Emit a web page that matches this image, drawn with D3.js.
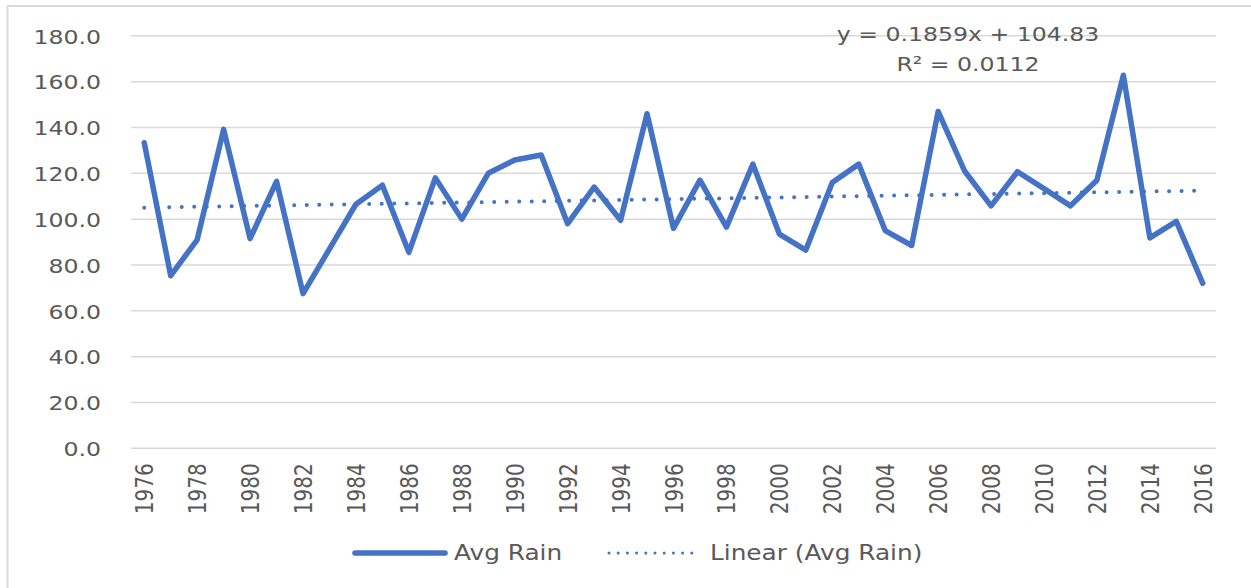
<!DOCTYPE html>
<html>
<head>
<meta charset="utf-8">
<script src="https://cdn.jsdelivr.net/npm/d3@7"></script>
<style>
  html, body { margin: 0; padding: 0; background: #ffffff; }
  svg { display: block; }
  text { font-family: "DejaVu Sans", sans-serif; fill: #595959; }
</style>
</head>
<body>
<svg id="chart" width="1251" height="588"></svg>
<script>
// ---- data ----
const years = [1976,1977,1978,1979,1980,1981,1982,1983,1984,1985,1986,1987,1988,1989,1990,1991,1992,1993,1994,1995,1996,1997,1998,1999,2000,2001,2002,2003,2004,2005,2006,2007,2008,2009,2010,2011,2012,2013,2014,2015,2016];
const avgRain = [133.3,75.3,91.0,139.2,91.5,116.5,67.5,87.0,106.5,114.8,85.5,118.0,100.0,120.0,125.8,128.0,98.0,114.0,99.5,146.0,96.0,117.0,96.5,124.0,93.5,86.5,116.0,124.0,95.0,88.5,147.0,121.0,105.8,120.7,113.3,105.8,117.0,162.8,91.8,99.0,72.0];
const yTicks = [0,20,40,60,80,100,120,140,160,180];
const trendSlope = 0.1859;
const trendIntercept = 104.83;
const r2Text = "0.0112";
const seriesName = "Avg Rain";
const trendName = "Linear (Avg Rain)";

// ---- layout ----
const W = 1251, H = 588;
const plot = { left: 131, right: 1216, top: 35.8, bottom: 448.3 };
const stretch = 1.18;
const blue = "#4472C4";
const grid = "#d9d9d9";

const svg = d3.select("#chart");

// chart border
svg.append("rect")
  .attr("x", 7.5).attr("y", 6)
  .attr("width", W + 10).attr("height", H + 10)
  .attr("fill", "none").attr("stroke", grid).attr("stroke-width", 2);

const x = d3.scaleBand().domain(years).range([plot.left, plot.right]).padding(0);
const cx = d => x(d) + x.bandwidth() / 2;
const y = d3.scaleLinear().domain([0, 180]).range([plot.bottom, plot.top]);

// gridlines
svg.append("g").selectAll("line").data(yTicks).join("line")
  .attr("x1", plot.left).attr("x2", plot.right)
  .attr("y1", d => y(d)).attr("y2", d => y(d))
  .attr("stroke", grid).attr("stroke-width", 1.5);

// y axis
const yAxis = svg.append("g")
  .call(d3.axisLeft(y).tickValues(yTicks).tickFormat(d3.format(".1f")).tickSize(0).tickPadding(0));
yAxis.select(".domain").remove();
yAxis.selectAll("text")
  .attr("x", null).attr("dy", "0.36em")
  .attr("text-anchor", "end")
  .attr("transform", `translate(${plot.left - 30},0) scale(${stretch},1)`)
  .style("font-size", "20px").style("font-family", "DejaVu Sans").attr("fill", "#595959");

// x axis
const xAxis = svg.append("g")
  .attr("transform", `translate(0,${plot.bottom})`)
  .call(d3.axisBottom(x).tickValues(years.filter((d, i) => i % 2 === 0)).tickSize(0).tickPadding(0));
xAxis.select(".domain").remove();
xAxis.selectAll("text")
  .attr("y", null).attr("dy", "0.36em")
  .attr("text-anchor", "end")
  .attr("transform", `translate(0,15) scale(1.25,1) rotate(-90)`)
  .style("font-size", "20px").style("font-family", "DejaVu Sans").attr("fill", "#595959");

// data line
const line = d3.line().x((d, i) => cx(years[i])).y(d => y(d));
svg.append("path")
  .datum(avgRain)
  .attr("d", line)
  .attr("fill", "none").attr("stroke", blue).attr("stroke-width", 5.5)
  .attr("stroke-linejoin", "round").attr("stroke-linecap", "round");

// trend line
const trendPts = [0, years.length - 1].map(i => ({ yr: years[i], v: trendSlope * (i + 1) + trendIntercept }));
svg.append("path")
  .datum(trendPts)
  .attr("d", d3.line().x(d => cx(d.yr)).y(d => y(d.v)))
  .attr("fill", "none").attr("stroke", blue).attr("stroke-width", 4)
  .attr("stroke-dasharray", "0 12.5").attr("stroke-linecap", "round");

// equation
const eq = svg.append("g").attr("transform", `translate(968,0)`);
eq.append("text").attr("transform", `translate(0,41) scale(${stretch},1)`)
  .attr("text-anchor", "middle").style("font-size", "20px")
  .text(`y = ${trendSlope}x + ${trendIntercept}`);
eq.append("text").attr("transform", `translate(0,71) scale(${stretch},1)`)
  .attr("text-anchor", "middle").style("font-size", "20px")
  .text(`R² = ${r2Text}`);

// legend
const lg = svg.append("g");
lg.append("line").attr("x1", 355).attr("x2", 445).attr("y1", 553).attr("y2", 553)
  .attr("stroke", blue).attr("stroke-width", 5.5).attr("stroke-linecap", "round");
lg.append("text").attr("transform", `translate(454,560) scale(${stretch},1)`)
  .style("font-size", "21px").text(seriesName);
lg.append("line").attr("x1", 609).attr("x2", 692).attr("y1", 553).attr("y2", 553)
  .attr("stroke", blue).attr("stroke-width", 3).attr("stroke-linecap", "round")
  .attr("stroke-dasharray", "0 9.2");
lg.append("text").attr("transform", `translate(710,560) scale(${stretch},1)`)
  .style("font-size", "21px").text(trendName);
</script>
</body>
</html>
